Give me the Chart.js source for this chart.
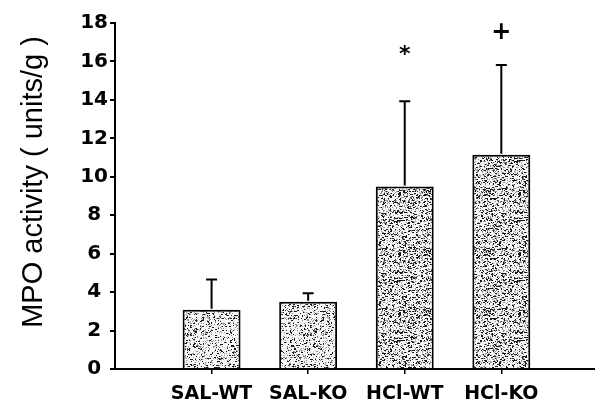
<!DOCTYPE html>
<html>
<head>
<meta charset="utf-8">
<script src="https://cdn.jsdelivr.net/npm/chart.js@4"></script>
<style>
html,body{margin:0;padding:0;background:#fff;}
#wrap{width:595px;height:408px;position:relative;}
</style>
</head>
<body>
<div id="wrap"><canvas id="c" width="595" height="408"></canvas></div>
<script>
// ---- data ----
const categories = ['SAL-WT', 'SAL-KO', 'HCl-WT', 'HCl-KO'];
const xPositions = [1, 2, 3, 4];
const meanValues = [3.08, 3.5, 9.5, 11.15];
const errorValues = [1.57, 0.44, 4.43, 4.67];
const markTexts = ['', '', '*', '+'];
const markLevels = [null, null, 16.3, 17.5];
const yTickValues = [0, 2, 4, 6, 8, 10, 12, 14, 16, 18];
const yTitle = 'MPO activity ( units/g )';

// ---- stipple pattern (deterministic) ----
function makePattern(seed, dark, mid) {
  const pc = document.createElement('canvas');
  pc.width = 60; pc.height = 60;
  const p = pc.getContext('2d');
  p.fillStyle = '#f6f6f6';
  p.fillRect(0, 0, 60, 60);
  let s = seed;
  function rnd() { s = (s * 1103515245 + 12345) & 0x7fffffff; return s / 0x7fffffff; }
  for (let y = 0; y < 60; y++) {
    for (let x = 0; x < 60; x++) {
      const r = rnd();
      if (r < dark) {
        p.fillStyle = '#1a1a1a';
        const w = rnd() < 0.4 ? 2 : 1;
        p.fillRect(x, y, w, 1);
      } else if (r < dark + mid) {
        p.fillStyle = '#8f8f8f'; p.fillRect(x, y, 1, 1);
      }
    }
  }
  return document.getElementById('c').getContext('2d').createPattern(pc, 'repeat');
}
const lightStipple = makePattern(12345, 0.10, 0.12);
const denseStipple = makePattern(54321, 0.16, 0.16);
const barFills = [lightStipple, lightStipple, denseStipple, denseStipple];

const errorBarPlugin = {
  id: 'errorBars',
  afterDatasetsDraw(chart) {
    const ctx = chart.ctx;
    const xs = chart.scales.x, ys = chart.scales.y;
    ctx.save();
    ctx.strokeStyle = '#000';
    ctx.lineWidth = 2;
    for (let i = 0; i < meanValues.length; i++) {
      const x = xs.getPixelForValue(xPositions[i]);
      const y0 = ys.getPixelForValue(meanValues[i]);
      const y1 = ys.getPixelForValue(meanValues[i] + errorValues[i]);
      ctx.beginPath();
      ctx.moveTo(x, y0 - 1); ctx.lineTo(x, y1);
      ctx.moveTo(x - 5.5, y1); ctx.lineTo(x + 5.5, y1);
      ctx.stroke();
    }
    // significance marks
    ctx.fillStyle = '#000';
    ctx.textAlign = 'center';
    ctx.textBaseline = 'middle';
    for (let i = 0; i < markTexts.length; i++) {
      if (!markTexts[i]) continue;
      const x = xs.getPixelForValue(xPositions[i]);
      const y = ys.getPixelForValue(markLevels[i]);
      ctx.font = markTexts[i] === '+' ? 'bold 24px "DejaVu Sans"' : 'bold 22px "DejaVu Sans"';
      ctx.fillText(markTexts[i], x, y);
    }
    // y title
    const ca = chart.chartArea;
    ctx.save();
    ctx.translate(34, (ca.top + ca.bottom) / 2 - 14);
    ctx.rotate(-Math.PI / 2);
    ctx.font = '29px "Liberation Sans", Arial, sans-serif';
    ctx.textAlign = 'center';
    ctx.textBaseline = 'middle';
    ctx.fillText(yTitle, 0, 0);
    ctx.restore();
    ctx.restore();
  }
};

new Chart(document.getElementById('c'), {
  type: 'bar',
  data: {
    datasets: [{
      data: xPositions.map((x, i) => ({ x: x, y: meanValues[i] })),
      backgroundColor: barFills,
      borderColor: '#000',
      borderWidth: 2,
      borderSkipped: 'bottom',
      barPercentage: 0.6,
      categoryPercentage: 1.0
    }]
  },
  options: {
    responsive: false,
    animation: false,
    devicePixelRatio: 1,
    layout: { padding: { left: 0, right: 0, top: 23, bottom: 0 } },
    plugins: { legend: { display: false }, tooltip: { enabled: false } },
    scales: {
      x: {
        type: 'linear',
        offset: false,
        min: 0,
        max: 4.97,
        afterBuildTicks(scale) { scale.ticks = xPositions.map(v => ({ value: v })); },
        afterFit(scale) { scale.height = 39; },
        ticks: {
          autoSkip: false,
          maxRotation: 0,
          padding: 9,
          color: '#000',
          font: { family: 'DejaVu Sans', weight: 'bold', size: 19 },
          callback: (v) => categories[xPositions.indexOf(v)] || ''
        },
        grid: { offset: false, drawOnChartArea: false, drawTicks: true, tickLength: 5, color: '#000', lineWidth: 1.5 },
        border: { display: true, color: '#000', width: 2 }
      },
      y: {
        min: 0,
        max: 18,
        afterBuildTicks(scale) { scale.ticks = yTickValues.map(v => ({ value: v })); },
        afterFit(scale) { scale.width = 115; },
        ticks: {
          padding: 2,
          crossAlign: 'center',
          color: '#000',
          font: { family: 'DejaVu Sans', weight: 'bold', size: 20 }
        },
        grid: { drawOnChartArea: false, drawTicks: true, tickLength: 5, color: '#000', lineWidth: 2 },
        border: { display: true, color: '#000', width: 2 }
      }
    }
  },
  plugins: [errorBarPlugin]
});
</script>
</body>
</html>
